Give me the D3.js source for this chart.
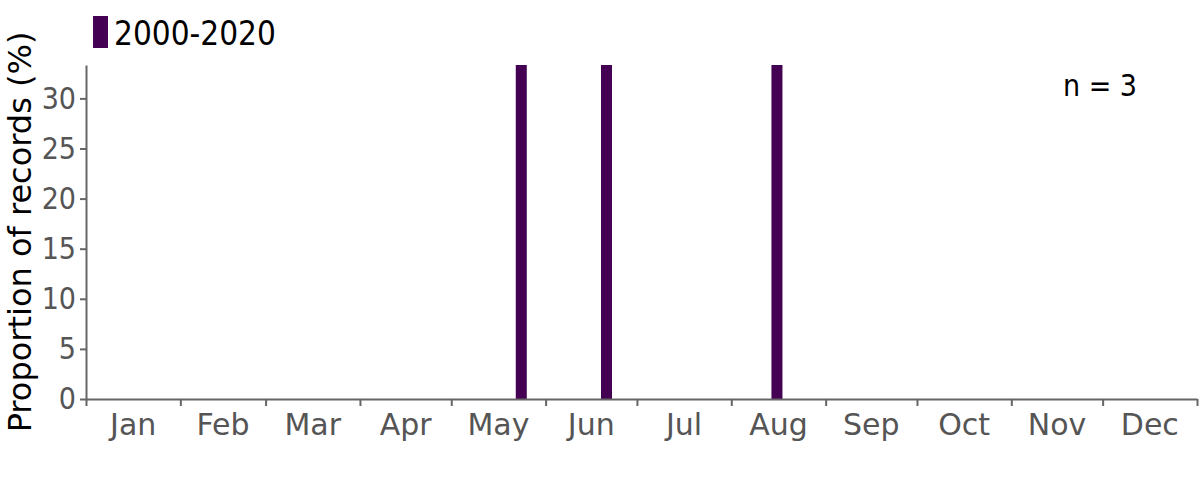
<!DOCTYPE html>
<html>
<head>
<meta charset="utf-8">
<script src="https://cdn.jsdelivr.net/npm/d3@7"></script>
<style>
  body { margin: 0; background: #fff; }
  svg text { font-family: "DejaVu Sans Condensed", "DejaVu Sans", sans-serif; }
  svg text.wide { font-family: "DejaVu Sans", sans-serif; }
</style>
</head>
<body>
<svg id="chart" width="1200" height="480"></svg>
<script>
// records per month-day (non-leap reference year), as % of all records
const recordDates = ["2001-05-24", "2001-06-21", "2001-08-16"];
const recordValues = [33.333, 33.333, 33.333];
const monthLabels = ["Jan","Feb","Mar","Apr","May","Jun","Jul","Aug","Sep","Oct","Nov","Dec"];
const yTicks = [0, 5, 10, 15, 20, 25, 30];
const seriesName = "2000-2020";
const nRecords = 3;

const barColor = "#440154";
const axisColor = "#666";
const labelColor = "#555";

const svg = d3.select("#chart");
const margin = {left: 86, right: 3, top: 65, bottom: 81};
const W = 1200, H = 480;

const parse = d3.utcParse("%Y-%m-%d");
const data = recordDates.map((d, i) => ({date: parse(d), value: recordValues[i]}));

const x = d3.scaleUtc()
    .domain([Date.UTC(2001, 0, 1), Date.UTC(2002, 0, 1)])
    .range([margin.left, W - margin.right]);
const y = d3.scaleLinear()
    .domain([0, d3.max(recordValues)])
    .range([H - margin.bottom, margin.top]);

// bars
const barW = 11;
svg.append("g").selectAll("rect")
  .data(data)
  .join("rect")
    .attr("x", d => x(d.date) - barW / 2)
    .attr("width", barW)
    .attr("y", d => y(d.value))
    .attr("height", d => y(0) - y(d.value))
    .attr("fill", barColor);

// x axis: month boundaries as ticks, labels centred in each month
const months = d3.utcMonths(x.domain()[0], x.domain()[1]);
const xAxis = svg.append("g")
    .attr("transform", `translate(0,${y(0)})`)
    .call(d3.axisBottom(x)
      .tickValues(months.concat([x.domain()[1]]))
      .tickFormat("")
      .tickSize(7)
      .tickSizeOuter(0));
xAxis.selectAll("line, path").attr("stroke", axisColor).attr("stroke-width", 2);

svg.append("g").selectAll("text")
  .data(months)
  .join("text")
    .attr("class", "wide")
    .attr("x", d => (x(d) + x(d3.utcMonth.offset(d, 1))) / 2)
    .attr("y", y(0) + 36)
    .attr("text-anchor", "middle")
    .attr("font-size", 30)
    .attr("fill", labelColor)
    .text((d, i) => monthLabels[i]);

// y axis
const yAxis = svg.append("g")
    .attr("transform", `translate(${margin.left},0)`)
    .call(d3.axisLeft(y).tickValues(yTicks).tickSize(6).tickSizeOuter(0).tickPadding(4));
yAxis.selectAll("line, path").attr("stroke", axisColor).attr("stroke-width", 2);
yAxis.selectAll("text").attr("font-size", 30).attr("fill", labelColor).attr("font-family", null);

svg.append("text")
    .attr("class", "wide")
    .attr("transform", `translate(31,${(y(0) + y.range()[1]) / 2}) rotate(-90)`)
    .attr("text-anchor", "middle")
    .attr("font-size", 32)
    .attr("fill", "#000")
    .text("Proportion of records (%)");

// legend
svg.append("rect")
    .attr("x", 93).attr("y", 16).attr("width", 15).attr("height", 32)
    .attr("fill", barColor);
svg.append("text")
    .attr("x", 114).attr("y", 45)
    .attr("font-size", 33)
    .attr("fill", "#000")
    .text(seriesName);

// sample size
svg.append("text")
    .attr("x", 1137).attr("y", 96)
    .attr("text-anchor", "end")
    .attr("font-size", 30)
    .attr("fill", "#000")
    .text(`n = ${nRecords}`);
</script>
</body>
</html>
